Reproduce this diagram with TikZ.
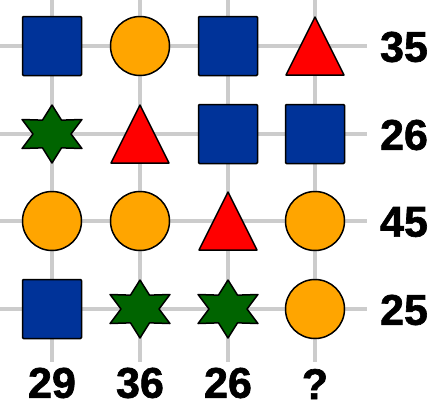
\documentclass[tikz,border=0pt]{standalone}
\usepackage{fontspec}
\setmainfont{Liberation Sans}
\newfontfamily\sumfont[FakeBold=1.5]{Liberation Sans Bold}
\usetikzlibrary{positioning}
\definecolor{gridgray}{HTML}{CCCCCC}
\definecolor{sqblue}{HTML}{003399}
\definecolor{dotorange}{HTML}{FFA500}
\definecolor{trired}{HTML}{FF0000}
\definecolor{stargreen}{HTML}{006400}

\begin{document}
\begin{tikzpicture}[
  x=1pt,y=-1pt,
  gridline/.style={gridgray,line width=4pt},
  shapeline/.style={draw=black,line width=1.5pt,line join=round},
  sum/.style={font=\fontsize{43}{43}\selectfont\sumfont,inner sep=0pt},
  sq/.pic={\filldraw[shapeline,fill=sqblue,rounded corners=1pt] (-29.5,-29.5) rectangle (29.5,29.5);},
  dot/.pic={\filldraw[shapeline,fill=dotorange] (0,0) circle[radius=29.5];},
  tri/.pic={\filldraw[shapeline,fill=trired] (0,-29) -- (29,29) -- (-29,29) -- cycle;},
  hexstar/.pic={\filldraw[shapeline,fill=stargreen,xscale=1.19]
    (90:29) -- (60:16) -- (30:29) -- (0:16) -- (-30:29) -- (-60:16)
    -- (-90:29) -- (-120:16) -- (-150:29) -- (180:16) -- (150:29) -- (120:16) -- cycle;}
]
\useasboundingbox (0,0) rectangle (431,402);
% grid
\foreach \y in {46,134,221,309} \draw[gridline] (0,\y) -- (367,\y);
\foreach \x in {52,140,228,315} \draw[gridline] (\x,0) -- (\x,362);
% row 1
\pic at (52,46) {sq};
\pic at (140,46) {dot};
\pic at (228,46) {sq};
\pic at (315,46) {tri};
% row 2
\pic at (52,134) {hexstar};
\pic at (140,134) {tri};
\pic at (228,134) {sq};
\pic at (315,134) {sq};
% row 3
\pic at (52,221) {dot};
\pic at (140,221) {dot};
\pic at (228,221) {tri};
\pic at (315,221) {dot};
% row 4
\pic at (52,309) {sq};
\pic at (140,309) {hexstar};
\pic at (228,309) {hexstar};
\pic at (315,309) {dot};
% row sums
\node[sum] (r1) at (404,47) {35};
\node[sum] (r2) at (404,135) {26};
\node[sum] (r3) at (404,222) {45};
\node[sum] (r4) at (404,310) {25};
% column sums
\node[sum] (c1) at (52,383) {29};
\node[sum] (c2) at (140,383) {36};
\node[sum] (c3) at (228,383) {26};
\node[sum] (c4) at (315,384) {?};
\end{tikzpicture}
\end{document}
